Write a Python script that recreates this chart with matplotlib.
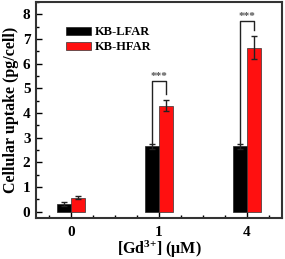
import matplotlib
matplotlib.use("Agg")
import matplotlib.pyplot as plt
from matplotlib.ticker import MultipleLocator
import numpy as np

categories = ["0", "1", "4"]
cat_pos = [0, 4, 8]
lfar = [0.30, 2.66, 2.66]
lfar_err = [0.08, 0.10, 0.10]
hfar = [0.57, 4.30, 6.65]
hfar_err = [0.07, 0.23, 0.46]
sig_labels = ["", "***", "***"]
sig_top = [None, 5.3, 7.73]
sig_right_end = [None, 4.78, 7.37]

plt.rcParams['font.family'] = ['Liberation Serif']
plt.rcParams['font.weight'] = 'bold'
plt.rcParams['mathtext.fontset'] = 'custom'
plt.rcParams['mathtext.rm'] = 'Liberation Serif:bold'
plt.rcParams['mathtext.bf'] = 'Liberation Serif:bold'
plt.rcParams['mathtext.it'] = 'Liberation Serif:italic:bold'
plt.rcParams['mathtext.default'] = 'regular'

fig = plt.figure(figsize=(2.85, 2.59), dpi=100)
ax = fig.add_axes([36/285, 1 - 218/259, (282-36)/285, (218-2)/259])

w = 0.64
x = np.array(cat_pos, dtype=float)
ax.bar(x - w/2, lfar, w, color='black', edgecolor='#222222', linewidth=0.5,
       yerr=lfar_err, error_kw=dict(ecolor='#222222', elinewidth=1, capsize=2.5, capthick=1),
       label='KB-LFAR', zorder=2)
ax.bar(x + w/2, hfar, w, color='#ff1010', edgecolor='#333333', linewidth=0.5,
       yerr=hfar_err, error_kw=dict(ecolor='#222222', elinewidth=1, capsize=2.5, capthick=1),
       label='KB-HFAR', zorder=2)

for i in range(len(categories)):
    if sig_labels[i]:
        xl = x[i] - w/2
        xr = x[i] + w/2
        yl = lfar[i] + lfar_err[i]
        ax.plot([xl, xl, xr, xr], [yl, sig_top[i], sig_top[i], sig_right_end[i]],
                color='#222222', lw=1, zorder=3)
        ax.text(x[i], sig_top[i] + 0.02, sig_labels[i], ha='center', va='bottom',
                fontsize=8, color='#555555', fontweight='bold')

ax.set_xlim(-1.6, 9.6)
ax.set_ylim(-0.25, 8.5)
ax.set_xticks(cat_pos)
ax.set_xticklabels(categories)
ax.xaxis.set_minor_locator(MultipleLocator(1))
ax.yaxis.set_major_locator(MultipleLocator(1))
ax.yaxis.set_minor_locator(MultipleLocator(0.5))
ax.tick_params(which='both', direction='in', labelsize=11, width=1, top=False, right=False)
ax.tick_params(which='major', length=4)
ax.tick_params(which='minor', length=2.5)
ax.tick_params(axis='x', pad=6)
ax.tick_params(axis='y', pad=4)
for lab in ax.get_xticklabels() + ax.get_yticklabels():
    lab.set_fontweight('bold')
for s in ax.spines.values():
    s.set_linewidth(1.5)
    s.set_color('#333333')

ax.set_ylabel('Cellular uptake (pg/cell)', fontsize=11.5, fontweight='bold', labelpad=3)
ax.set_xlabel('[Gd$^{3{+}}$] (\u03bcM)', fontsize=11.5, fontweight='bold', labelpad=0)
ax.xaxis.set_label_coords(0.5, -0.145)
ax.xaxis.label.set_va('center')

leg = ax.legend(loc='upper left', bbox_to_anchor=(0.1, 0.91), frameon=False,
                fontsize=9, handlelength=2.0, handleheight=0.6, labelspacing=0.2,
                handletextpad=0.3, borderaxespad=0)
for t in leg.get_texts():
    t.set_fontweight('bold')

fig.savefig('out.png', dpi=100)
